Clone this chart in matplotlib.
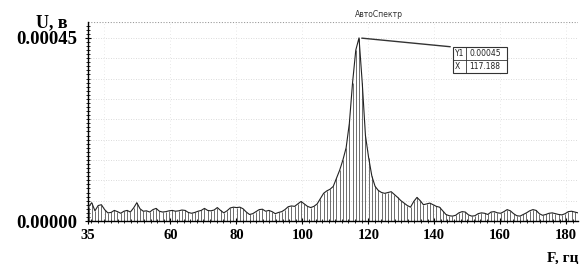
import numpy as np
import matplotlib.pyplot as plt
from matplotlib.ticker import MultipleLocator, FixedLocator

# spectrum bins (bin index k, frequency = k * df), amplitude in units of 1e-5 V
df = 1000.0 / 1024.0
first_bin = 36
amp = [
    3.5, 4.5, 2.5, 3.8, 4.0, 2.8, 2.0, 2.1, 2.6, 2.3,
    1.9, 2.4, 2.6, 2.2, 3.2, 4.5, 3.0, 2.4, 2.5, 2.2,
    2.8, 3.1, 2.4, 2.2, 2.3, 2.5, 2.6, 2.4, 2.5, 2.7,
    2.6, 2.1, 1.9, 2.1, 2.4, 2.6, 3.1, 2.6, 2.5, 2.7,
    3.3, 2.6, 2.0, 2.5, 3.2, 3.4, 3.3, 3.4, 3.0, 2.2,
    1.6, 1.8, 2.3, 2.8, 2.9, 2.4, 2.6, 2.3, 1.8, 2.1,
    2.3, 2.8, 3.5, 3.7, 3.6, 4.2, 4.8, 4.2, 3.6, 3.3,
    3.6, 4.2, 5.5, 6.8, 7.4, 7.8, 8.5, 10.5, 12.5, 15.0,
    18.0, 24.0, 34.0, 42.0, 45.0, 34.0, 21.0, 15.5, 11.0, 8.5,
    7.5, 7.0, 6.8, 7.0, 7.2, 6.5, 5.8, 5.0, 4.4, 3.8,
    3.4, 4.8, 5.8, 5.0, 4.0, 4.2, 4.4, 4.0, 3.6, 3.4,
    2.5, 1.6, 1.3, 1.2, 1.4, 2.0, 2.3, 2.2, 1.5, 1.2,
    1.3, 1.8, 2.0, 1.9, 1.6, 2.2, 2.3, 2.0, 1.9, 2.3,
    2.8, 2.5, 1.8, 1.3, 1.2, 1.6, 2.0, 2.5, 2.8, 2.6,
    1.8, 1.4, 1.6, 1.9, 2.0, 1.8, 1.6, 1.5, 1.8, 2.3,
    2.4, 2.2, 2.0,
]
freq = (first_bin + np.arange(len(amp))) * df
u = np.array(amp) * 1e-5

peak_f = 117.188
peak_u = 0.00045
x_ticks = [35, 60, 80, 100, 120, 140, 160, 180]
y_ticks = [0.0, 0.00045]
y_labels = ["0.00000", "0.00045"]

fig = plt.figure(figsize=(5.81, 2.64), dpi=100)
ax = fig.add_axes([88 / 581, 1 - 221 / 264, 490 / 581, 199 / 264])

# faint dotted background grid, like the scanned screen
for yy in np.arange(0.00005, 0.00049, 0.00005):
    ax.axhline(yy, color="#cfcfcf", lw=0.6, ls=(0, (1, 2)), zorder=0)
ax.axhline(0.000488, color="#9a9a9a", lw=0.8, ls=(0, (1, 1.5)), zorder=0)
for xx in range(40, 181, 20):
    ax.axvline(xx, color="#e2e2e2", lw=0.6, ls=(0, (1, 3)), zorder=0)

ax.vlines(freq, 0, u, color="#555555", lw=0.6, zorder=2)
ax.plot(freq, u, color="#222222", lw=0.8, zorder=3)

ax.set_xlim(35, 183.6)
ax.set_ylim(0, 0.000489)

for s in ["top", "right"]:
    ax.spines[s].set_visible(False)
ax.spines["left"].set_linewidth(1.0)
ax.spines["bottom"].set_linewidth(1.0)

ax.xaxis.set_major_locator(FixedLocator(x_ticks))
ax.xaxis.set_minor_locator(MultipleLocator(2))
ax.yaxis.set_major_locator(FixedLocator(y_ticks))
ax.yaxis.set_minor_locator(MultipleLocator(0.00001))
ax.set_yticklabels(y_labels)
ax.tick_params(axis="both", which="major", direction="inout", length=4, width=0.8)
ax.tick_params(axis="both", which="minor", direction="inout", length=3, width=0.6)
ax.tick_params(axis="y", which="major", pad=6)
ax.tick_params(axis="x", which="major", pad=4)
for lab in ax.get_yticklabels():
    lab.set_fontfamily("Liberation Serif")
    lab.set_fontweight("bold")
    lab.set_fontsize(13.5)
for lab in ax.get_xticklabels():
    lab.set_fontfamily("Liberation Serif")
    lab.set_fontweight("bold")
    lab.set_fontsize(10.5)

fig.text(36 / 581, 1 - 27 / 264, "U, в", fontfamily="Liberation Serif",
         fontweight="bold", fontsize=13, ha="left", va="baseline")
fig.text(547 / 581, 1 - 261 / 264, "F, гц", fontfamily="Liberation Serif",
         fontweight="bold", fontsize=11, ha="left", va="baseline")
fig.text(379 / 581, 1 - 17 / 264, "АвтоСпектр", fontfamily="DejaVu Sans",
         fontsize=5.5, ha="center", va="baseline", color="#333333")

# marker readout box
bx0, bx1, by0, by1, bmid, bdiv = 453, 507, 47, 73, 60, 466
ax.annotate("", xy=(peak_f, peak_u), xycoords="data",
            xytext=(bx0 / 581, 1 - by0 / 264), textcoords="figure fraction",
            arrowprops=dict(arrowstyle="-", color="#333333", lw=1.0))
box = plt.Rectangle((bx0 / 581, 1 - by1 / 264), (bx1 - bx0) / 581, (by1 - by0) / 264,
                    transform=fig.transFigure, fill=True, facecolor="white",
                    edgecolor="#333333", lw=0.8, zorder=5)
fig.add_artist(box)
fig.add_artist(plt.Line2D([bx0 / 581, bx1 / 581], [1 - bmid / 264] * 2,
                          transform=fig.transFigure, color="#333333", lw=0.6, zorder=6))
fig.add_artist(plt.Line2D([bdiv / 581] * 2, [1 - by0 / 264, 1 - by1 / 264],
                          transform=fig.transFigure, color="#333333", lw=0.6, zorder=6))
for row, (name, val) in enumerate([("Y1", "0.00045"), ("X", "117.188")]):
    yc = 1 - (by0 + 6.5 + row * 13) / 264
    fig.text((bx0 + 2) / 581, yc, name, fontsize=5.5, va="center", ha="left",
             color="#222222", zorder=7)
    fig.text((bdiv + 3) / 581, yc, val, fontsize=5.5, va="center", ha="left",
             color="#222222", zorder=7)

fig.savefig("out.png", dpi=100)
